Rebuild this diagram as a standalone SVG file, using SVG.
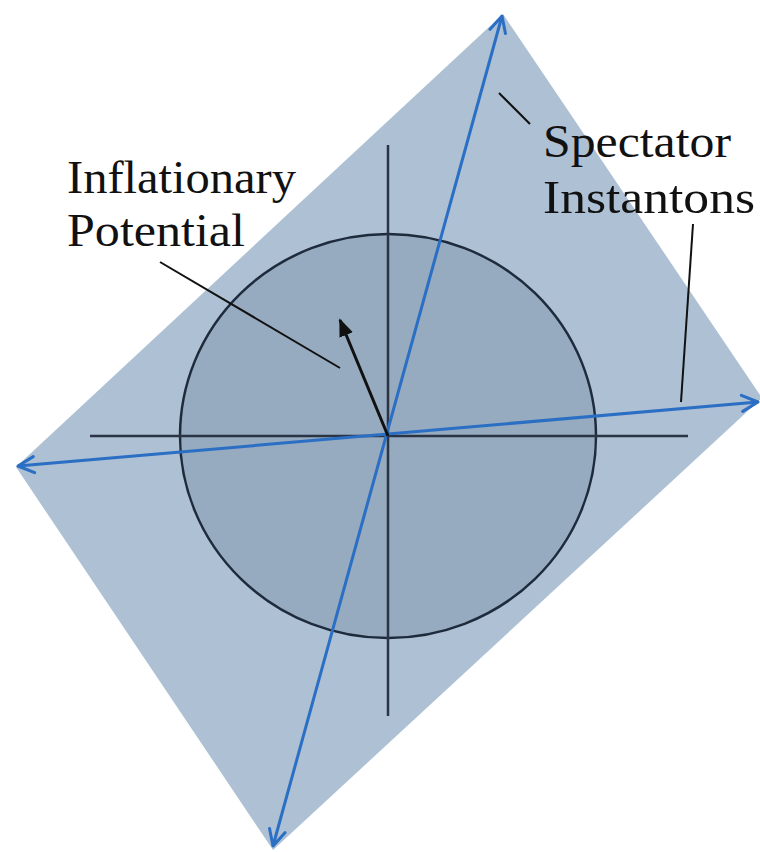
<svg xmlns="http://www.w3.org/2000/svg" width="760" height="852" viewBox="0 0 760 852">
<style>
.lbl{font-family:"Liberation Serif","Times New Roman",serif;font-size:46px;fill:#111}
.ax{stroke:#2b3443;stroke-width:2.5;fill:none}
.blue{stroke:#2a6fc4;stroke-width:3;fill:none}
.ptr{stroke:#111;stroke-width:2;fill:none}
</style>
<defs>
<marker id="chev" viewBox="0 0 20 20" refX="18" refY="10" markerWidth="20" markerHeight="20" markerUnits="userSpaceOnUse" orient="auto-start-reverse">
<path d="M2,2 L18,10 L2,18" fill="none" stroke="#2a6fc4" stroke-width="3" stroke-linecap="round" stroke-linejoin="round"/>
</marker>
<marker id="tri" viewBox="0 0 20 20" refX="18" refY="10" markerWidth="18" markerHeight="18" markerUnits="userSpaceOnUse" orient="auto">
<path d="M0,2 L20,10 L0,18 Z" fill="#111"/>
</marker>
</defs>
<g id="plane"><polygon points="503,14 762,398 273,850 16,467" fill="#adc0d4"/></g>
<g id="circle"><ellipse cx="388" cy="436" rx="208" ry="202" fill="#96aac0" stroke="#1e2b3c" stroke-width="2.5"/></g>
<g id="axes">
<line class="ax" x1="388" y1="145" x2="388" y2="716"/>
<line class="ax" x1="90" y1="436" x2="688" y2="436"/>
</g>
<g id="connectors">
<line class="blue" x1="273" y1="846" x2="502" y2="16" marker-start="url(#chev)" marker-end="url(#chev)"/>
<line class="blue" x1="18" y1="466" x2="758" y2="402" marker-start="url(#chev)" marker-end="url(#chev)"/>
<line x1="388" y1="436" x2="340" y2="320" stroke="#111" stroke-width="3" marker-end="url(#tri)"/>
<line class="ptr" x1="160" y1="262" x2="340" y2="368"/>
<line class="ptr" x1="499" y1="93" x2="530" y2="124"/>
<line class="ptr" x1="693" y1="224" x2="681" y2="402"/>
</g>
<g id="label-inflationary">
<text class="lbl" x="67" y="193" textLength="229" lengthAdjust="spacingAndGlyphs">Inflationary</text>
<text class="lbl" x="67" y="246" textLength="178" lengthAdjust="spacingAndGlyphs">Potential</text>
</g>
<g id="label-spectator">
<text class="lbl" x="543" y="157" textLength="188" lengthAdjust="spacingAndGlyphs">Spectator</text>
<text class="lbl" x="543" y="213" textLength="212" lengthAdjust="spacingAndGlyphs">Instantons</text>
</g>
</svg>
